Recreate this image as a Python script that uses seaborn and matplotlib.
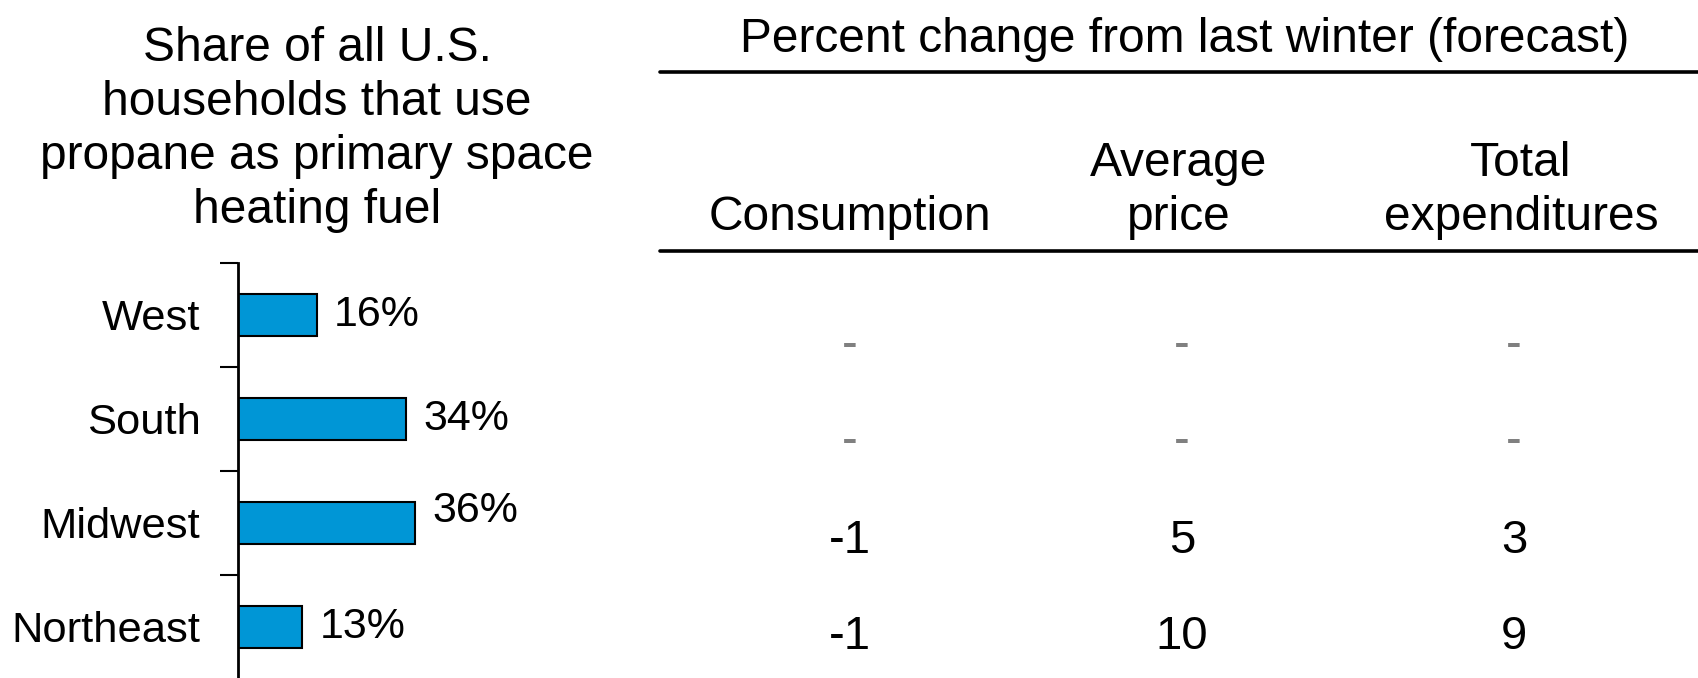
import matplotlib
matplotlib.use("Agg")
import matplotlib.pyplot as plt
from matplotlib.lines import Line2D
import seaborn as sns
import pandas as pd

# ---- data ----
regions = ["West", "South", "Midwest", "Northeast"]
share_pct = [16, 34, 36, 13]
share_labels = ["16%", "34%", "36%", "13%"]
table_columns = ["Consumption", "Average\nprice", "Total\nexpenditures"]
consumption_change = [None, None, -1, -1]
price_change = [None, None, 5, 10]
expenditure_change = [None, None, 3, 9]
left_title = "Share of all U.S.\nhouseholds that use\npropane as primary space\nheating fuel"
table_title = "Percent change from last winter (forecast)"

sns.set_theme(style="white")
plt.rcParams["font.family"] = ["Liberation Sans", "DejaVu Sans"]

W, H = 1699, 678
fig = plt.figure(figsize=(W / 100, H / 100), dpi=100)
fig.patch.set_facecolor("white")


def fx(px):
    return px / W


def fy(py):
    return 1 - py / H


# ---- left bar chart ----
ax = fig.add_axes([fx(238), 0, 246.5 / W, 415 / H])
df = pd.DataFrame({"region": regions, "share": share_pct})
sns.barplot(data=df, x="share", y="region", orient="h", color="#0096D6",
            saturation=1, edgecolor="black", linewidth=1.5, width=0.4, ax=ax)
ax.set_xlim(0, 50)
ax.set_ylim(-0.5 + 415 / 104, -0.5)
ax.set_xlabel("")
ax.set_ylabel("")
for s in ["top", "right", "bottom"]:
    ax.spines[s].set_visible(False)
ax.spines["left"].set_linewidth(2)
ax.spines["left"].set_color("black")
ax.set_xticks([])
ax.set_yticks(range(len(regions)))
ax.set_yticklabels(regions, fontsize=31.3, color="black")
ax.tick_params(axis="y", which="major", left=True, length=0, pad=27)
ax.set_yticks([i - 0.5 for i in range(len(regions))], minor=True)
ax.tick_params(axis="y", which="minor", left=True, length=13, width=1.5,
               color="black", direction="out")
ax.set_facecolor("none")

anns = ax.bar_label(ax.containers[0], labels=share_labels, padding=12.5,
                    fontsize=31, color="black")
anns[2].xyann = (12.5, 8.5)

# ---- left title ----
fig.text(fx(317), fy(129.5), left_title, ha="center", va="center", fontsize=34.5,
         linespacing=1.26, multialignment="center", color="black")

# ---- table ----
fig.text(fx(1185), fy(52), table_title, ha="center", va="baseline",
         fontsize=34.5, color="black")
for yy in (72, 251):
    fig.add_artist(Line2D([fx(660), 1.0], [fy(yy), fy(yy)],
                          transform=fig.transFigure, color="black", lw=2.6))
for hx, col in zip([850, 1179, 1521], table_columns):
    fig.text(fx(hx), fy(240), col, ha="center", va="bottom", fontsize=34.5,
             linespacing=1.26, multialignment="center", color="black")

tab = fig.add_axes([fx(660), 0, (W - 660) / W, 1])
tab.axis("off")
tab.set_xlim((660 - 850) / 332.0, (1699 - 850) / 332.0)
tab.set_ylim((678 - 361) / 96, (0 - 361) / 96)
columns = [consumption_change, price_change, expenditure_change]
for c, vals in enumerate(columns):
    for r, v in enumerate(vals):
        if v is None:
            tab.annotate("-", (c, r), xytext=(0, 2), textcoords="offset points",
                         ha="center", va="baseline", fontsize=34, color="#808080")
        else:
            tab.text(c, r, str(v), ha="center", va="baseline", fontsize=34,
                     color="black")

fig.savefig("out.png", dpi=100, facecolor="white")
